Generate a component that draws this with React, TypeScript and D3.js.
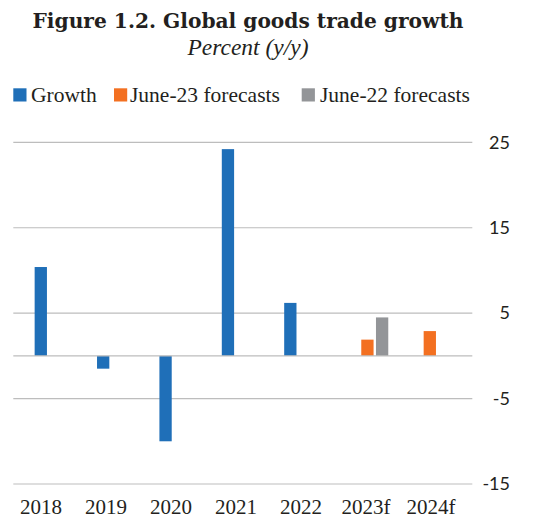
import React from "react";
import * as d3 from "d3";

const categories = ["2018", "2019", "2020", "2021", "2022", "2023f", "2024f"];
const growth: (number | null)[] = [10.4, -1.5, -10, 24.2, 6.2, null, null];
const june23: (number | null)[] = [null, null, null, null, null, 1.9, 2.9];
const june22: (number | null)[] = [null, null, null, null, null, 4.5, null];
const yTicks = [25, 15, 5, -5, -15];
const seriesNames = ["Growth", "June-23 forecasts", "June-22 forecasts"];
const seriesColors = ["#1F6FB8", "#F37021", "#939598"];

const W = 543;
const H = 519;

export default function App() {
  const y = d3.scaleLinear().domain([-15, 25]).range([484, 142.3]);
  const x = d3.scaleBand().domain(categories).range([24.3, 461]).padding(0);
  const xLabel = d3.scalePoint().domain(categories).range([41, 431]);
  const barW = 12.3;
  const offsets = [-14.7, 0, 14.7];
  const series = [growth, june23, june22];
  const gridX0 = 13.3;
  const gridX1 = 472.3;

  const legendItems = [
    { sq: 13.3, tx: 31 },
    { sq: 114, tx: 130 },
    { sq: 301.7, tx: 320 },
  ];

  return (
    <svg
      width={W}
      height={H}
      style={{ position: "absolute", left: 0, top: 0, background: "#fff" }}
    >
      <text
        x={248}
        y={28}
        textAnchor="middle"
        fontFamily="DejaVu Serif"
        fontWeight="bold"
        fontSize={20.2}
        fill="#231F20"
      >
        Figure 1.2. Global goods trade growth
      </text>
      <text
        x={248}
        y={55}
        textAnchor="middle"
        fontFamily="Liberation Serif"
        fontStyle="italic"
        fontSize={23.5}
        fill="#231F20"
      >
        Percent (y/y)
      </text>

      {seriesNames.map((name, i) => (
        <g key={name}>
          <rect
            x={legendItems[i].sq}
            y={88.3}
            width={13.2}
            height={13.2}
            fill={seriesColors[i]}
          />
          <text
            x={legendItems[i].tx}
            y={102}
            fontFamily="Liberation Serif"
            fontSize={21.5}
            fill="#231F20"
          >
            {name}
          </text>
        </g>
      ))}

      {yTicks.map((t) => (
        <g key={t}>
          <line
            x1={gridX0}
            x2={gridX1}
            y1={y(t)}
            y2={y(t)}
            stroke="#BDBDBD"
            strokeWidth={1.2}
          />
          <text
            x={510}
            y={y(t)}
            dy="0.35em"
            textAnchor="end"
            fontFamily="Lato"
            fontSize={18}
            fill="#231F20"
          >
            {t}
          </text>
        </g>
      ))}

      {series.map((vals, si) =>
        vals.map((v, ci) =>
          v === null ? null : (
            <rect
              key={`${si}-${ci}`}
              x={(x(categories[ci]) as number) + x.bandwidth() / 2 + offsets[si] - barW / 2}
              y={y(Math.max(0, v))}
              width={barW}
              height={Math.abs(y(v) - y(0))}
              fill={seriesColors[si]}
            />
          )
        )
      )}

      <line
        x1={gridX0}
        x2={gridX1}
        y1={y(0)}
        y2={y(0)}
        stroke="#BDBDBD"
        strokeWidth={1.2}
      />

      {categories.map((c) => (
        <text
          key={c}
          x={xLabel(c) as number}
          y={514}
          textAnchor="middle"
          fontFamily="Liberation Serif"
          fontSize={21}
          fill="#231F20"
        >
          {c}
        </text>
      ))}
    </svg>
  );
}
